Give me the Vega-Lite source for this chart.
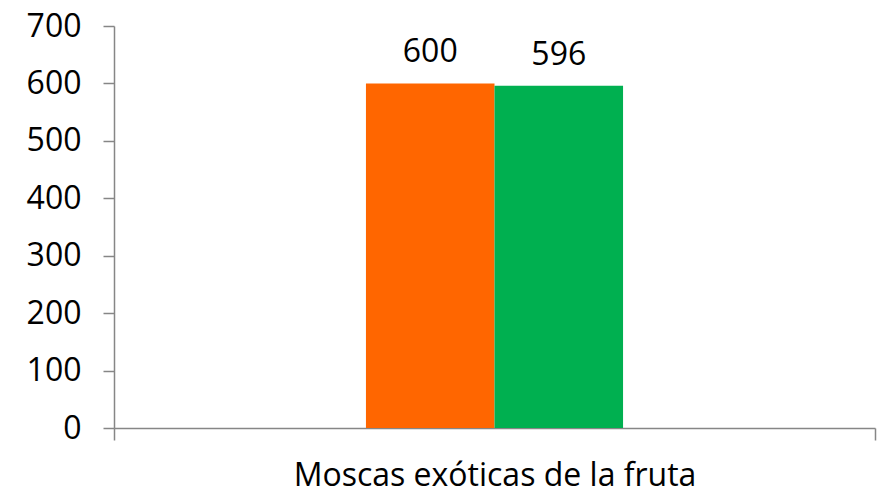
{
  "$schema": "https://vega.github.io/schema/vega-lite/v6.json",
  "width": 761,
  "height": 402,
  "autosize": {"type": "none"},
  "padding": {"left": 114, "top": 26, "right": 15, "bottom": 69},
  "background": "white",
  "config": {"view": {"stroke": null}, "font": "Open Sans"},
  "data": {"values": [
    {"categoria": "Moscas exóticas de la fruta", "serie": "A", "valor": 600},
    {"categoria": "Moscas exóticas de la fruta", "serie": "B", "valor": 596}
  ]},
  "encoding": {
    "x": {"field": "categoria", "type": "nominal", "title": null,
      "scale": {"paddingInner": 0, "paddingOuter": 0},
      "axis": {"labelAngle": 0, "labelFontSize": 32, "labelColor": "black", "labelPadding": 20, "labelLimit": 0,
        "tickBand": "extent", "tickSize": 12, "tickColor": "#868686", "domainColor": "#868686", "tickWidth": 1.5, "domainWidth": 1.5}},
    "xOffset": {"field": "serie", "type": "nominal", "scale": {"domain": ["_l", "A", "B", "_r"], "paddingInner": 0, "paddingOuter": 0.96}},
    "y": {"field": "valor", "type": "quantitative", "title": null,
      "scale": {"domain": [0, 700]},
      "axis": {"values": [0, 100, 200, 300, 400, 500, 600, 700], "grid": false, "labelFontSize": 32, "labelColor": "black",
        "labelPadding": 22, "tickSize": 11, "tickColor": "#868686", "domainColor": "#868686", "tickWidth": 1.5, "domainWidth": 1.5}}
  },
  "layer": [
    {"mark": {"type": "bar"},
     "encoding": {"color": {"field": "serie", "type": "nominal", "legend": null,
       "scale": {"domain": ["A", "B"], "range": ["#FF6600", "#00B050"]}}}},
    {"mark": {"type": "text", "baseline": "alphabetic", "dy": -21, "fontSize": 32, "color": "black"},
     "encoding": {"text": {"field": "valor", "type": "quantitative"}}}
  ]
}
